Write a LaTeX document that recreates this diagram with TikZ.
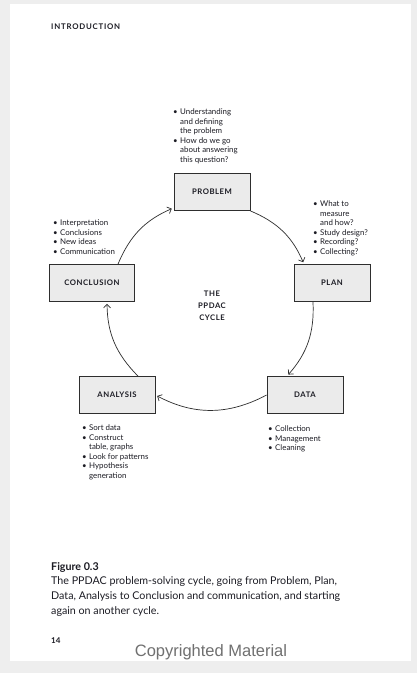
\documentclass[tikz,border=0pt]{standalone}
\usepackage{fontspec}
\setmainfont{Lato}
\newfontfamily\copyfont{Liberation Sans}
\usetikzlibrary{arrows.meta}

\definecolor{boxgrey}{HTML}{EBEBEB}
\definecolor{linegrey}{HTML}{2E2E2E}
\definecolor{inkblack}{HTML}{1C1C24}
\definecolor{pagegrey}{HTML}{EEEEEE}
\definecolor{copygrey}{HTML}{707070}

\newcommand{\bul}{\makebox[7pt][l]{\textbullet}}
\newcommand{\ind}{\hspace*{7pt}}

\begin{document}
\begin{tikzpicture}[x=1pt, y=-1pt,
  stage/.style={rectangle, draw=linegrey, fill=boxgrey, line width=0.8pt, minimum width=76pt, minimum height=37pt, align=center, text=inkblack, font=\fontsize{7.7}{9}\selectfont\bfseries\addfontfeature{LetterSpace=7}},
  notes/.style={anchor=base west, inner sep=0pt, text=inkblack, font=\fontsize{7.9}{9.6}\selectfont},
  cyclearrow/.style={-{Straight Barb[length=3.5pt,width=7pt]}, line width=0.7pt, linegrey, shorten >=2pt}]
\useasboundingbox (0,0) rectangle (417,673);
\fill[pagegrey] (0,0) rectangle (417,673);
\fill[white] (10,4) rectangle (411,661);

%%%%%%%%%%%%%%%%%%%
\node[anchor=west, inner sep=0pt, text=inkblack, font=\fontsize{7.8}{9}\selectfont\bfseries\addfontfeature{LetterSpace=10}] (header) at (51,27) {INTRODUCTION};

\node[stage] (problem) at (212,192) {PROBLEM};
\node[stage] (plan) at (332,283) {PLAN};
\node[stage, minimum width=85pt] (conclusion) at (92,283) {CONCLUSION};
\node[stage] (analysis) at (117,395) {ANALYSIS};
\node[stage] (data) at (305,395) {DATA};
\node[inner sep=0pt, align=center, text=inkblack, font=\fontsize{7.7}{12}\selectfont\bfseries\addfontfeature{LetterSpace=7}] (title) at (212,306) {THE\\PPDAC\\CYCLE};

%%%%%%%%%%%%%%%%%%%
\draw[cyclearrow] (problem.south east) to[bend left=22] ([xshift=-28pt]plan.north);
\draw[cyclearrow] ([xshift=-19pt]plan.south) to[bend left=22] ([xshift=-18pt]data.north);
\draw[cyclearrow] (data.west) to[bend left=28] (analysis.east);
\draw[cyclearrow] ([xshift=21pt]analysis.north) to[bend left=22] ([xshift=15pt]conclusion.south);
\draw[cyclearrow] ([xshift=26pt]conclusion.north) to[bend left=22] ([yshift=3pt]problem.south west);

%%%%%%%%%%%%%%%%%%%
\node[notes] (problemnotes) at (173,114.5) {\begin{tabular}[t]{@{}l@{}} \bul Understanding\\ \ind and defining\\ \ind the problem\\ \bul How do we go\\ \ind about answering\\ \ind this question? \end{tabular}};
\node[notes] (plannotes) at (313,206.5) {\begin{tabular}[t]{@{}l@{}} \bul What to\\ \ind measure\\ \ind and how?\\ \bul Study design?\\ \bul Recording?\\ \bul Collecting? \end{tabular}};
\node[notes] (conclusionnotes) at (53,225.5) {\begin{tabular}[t]{@{}l@{}} \bul Interpretation\\ \bul Conclusions\\ \bul New ideas\\ \bul Communication \end{tabular}};
\node[notes] (analysisnotes) at (82,430.5) {\begin{tabular}[t]{@{}l@{}} \bul Sort data\\ \bul Construct\\ \ind table, graphs\\ \bul Look for patterns\\ \bul Hypothesis\\ \ind generation \end{tabular}};
\node[notes] (datanotes) at (268,431.5) {\begin{tabular}[t]{@{}l@{}} \bul Collection\\ \bul Management\\ \bul Cleaning \end{tabular}};

%%%%%%%%%%%%%%%%%%%
\node[anchor=base west, inner sep=0pt, text=inkblack, font=\fontsize{10.7}{15}\selectfont\bfseries] (figlabel) at (51,570) {Figure 0.3};
\node[anchor=base west, inner sep=0pt, text=inkblack, font=\fontsize{10.7}{15.3}\selectfont] (caption) at (51,584) {\begin{tabular}[t]{@{}l@{}} The PPDAC problem-solving cycle, going from Problem, Plan,\\ Data, Analysis to Conclusion and communication, and starting\\ again on another cycle. \end{tabular}};
\node[anchor=base west, inner sep=0pt, text=inkblack, font=\fontsize{8}{9}\selectfont\bfseries] (pagenum) at (51,643) {14};
\node[inner sep=0pt, text=copygrey, font=\fontsize{16.5}{18}\selectfont\copyfont] (copyright) at (211,652) {Copyrighted Material};
\end{tikzpicture}
\end{document}
